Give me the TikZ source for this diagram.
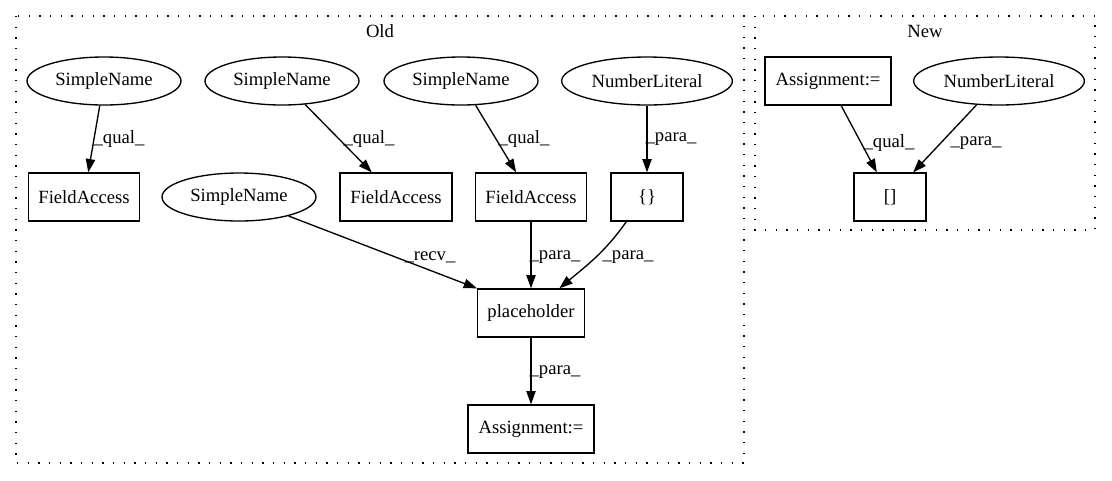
\documentclass[tikz,border=0pt]{standalone}
\usepackage{fontspec}
\setmainfont{Liberation Serif}
\usetikzlibrary{arrows.meta,shapes.geometric}
\begin{document}
\begin{tikzpicture}[x=0.75pt,y=-0.75pt,
  every node/.style={font=\fontsize{14pt}{16pt}\selectfont, inner sep=0pt},
  ell/.style={draw, ellipse, line width=1pt, minimum height=36pt, minimum width=115.5pt},
  wideell/.style={ell, minimum width=128pt},
  rectbox/.style={draw, rectangle, line width=1pt, minimum height=36pt},
  conn/.style={draw, line width=1pt, -{Triangle[length=10pt,width=7pt]}},
  lbl/.style={},
  cluster/.style={draw, line width=1pt, dash pattern=on 1pt off 7pt}]
\useasboundingbox (0,0) rectangle (1112,480);

% clusters
\draw[cluster] (16,16) rectangle (744,463);
\node (oldlbl) at (380,31) {Old};
\draw[cluster] (755,16) rectangle (1095,230);
\node (newlbl) at (925,31) {New};

% Old nodes
\node[ell] (sn1) at (104,81) {SimpleName};
\node[ell] (sn2) at (282,81) {SimpleName};
\node[ell] (sn4) at (461,81) {SimpleName};
\node[wideell] (nl1) at (647,81) {NumberLiteral};
\node[rectbox, minimum width=83pt] (fa1) at (84,197) {FieldAccess};
\node[ell] (sn3) at (239,197) {SimpleName};
\node[rectbox, minimum width=84pt] (fa2) at (396,197) {FieldAccess};
\node[rectbox, minimum width=83pt] (fa3) at (531,197) {FieldAccess};
\node[rectbox, minimum width=54pt] (br) at (647,197) {\{\}};
\node[rectbox, minimum width=80pt] (ph) at (531,313) {placeholder};
\node[rectbox, minimum width=94.5pt] (as1) at (531,429) {Assignment:=};

% New nodes
\node[rectbox, minimum width=94.5pt] (as2) at (828,81) {Assignment:=};
\node[wideell] (nl2) at (999,81) {NumberLiteral};
\node[rectbox, minimum width=54pt] (sq) at (890,197) {[]};

% Old edges
\draw[conn] (sn1) -- (fa1);
\node[lbl] at (119,139) {\_qual\_};
\draw[conn] (sn2) -- (fa2);
\node[lbl] at (369,139) {\_qual\_};
\draw[conn] (sn4) -- (fa3);
\node[lbl] at (524,139) {\_qual\_};
\draw[conn] (nl1) -- (br);
\node[lbl] at (671,139) {\_para\_};
\draw[conn] (sn3) -- (ph.north west);
\node[lbl] at (430,257) {\_recv\_};
\draw[conn] (fa3) -- (ph);
\node[lbl] at (555,257) {\_para\_};
\draw[conn] (br.230) to[out=-125,in=40] (ph.41);
\node[lbl] at (628,257) {\_para\_};
\draw[conn] (ph) -- (as1);
\node[lbl] at (555,372) {\_para\_};

% New edges
\draw[conn] (as2) -- (sq);
\node[lbl] at (889,143) {\_qual\_};
\draw[conn] (nl2) -- (sq);
\node[lbl] at (976,143) {\_para\_};
\end{tikzpicture}
\end{document}
